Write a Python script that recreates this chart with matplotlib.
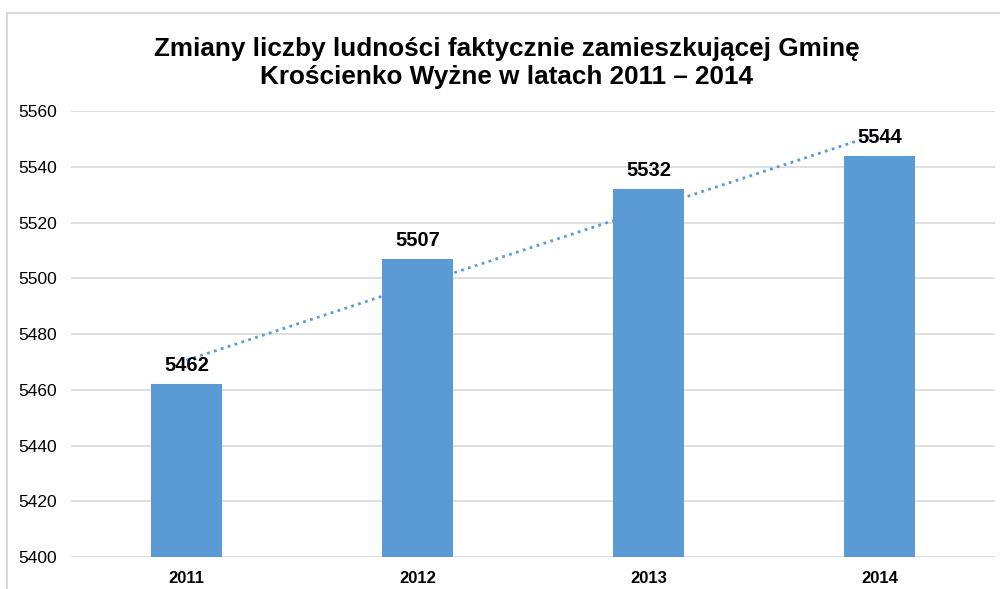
import matplotlib.pyplot as plt
import numpy as np
from matplotlib.patches import Rectangle

plt.rcParams['font.family'] = ['Liberation Sans', 'DejaVu Sans']

## dane
lata = ['2011', '2012', '2013', '2014']
ludnosc = [5462, 5507, 5532, 5544]
y_ticks = [5400, 5420, 5440, 5460, 5480, 5500, 5520, 5540, 5560]
tytul = 'Zmiany liczby ludności faktycznie zamieszkującej Gminę\nKrościenko Wyżne w latach 2011 – 2014'

kolor = '#5B9BD5'
szary = '#D9D9D9'

fig = plt.figure(figsize=(10, 5.89), dpi=100)
ax = fig.add_axes([0.071, 0.0543, 0.924, 0.7572])

# ramka wykresu
fig.patches.append(Rectangle((0.007, -0.05), 1.2, 1 - 0.022 + 0.05, transform=fig.transFigure,
                             fill=False, edgecolor=szary, linewidth=1.5))

x = np.arange(len(lata))
ax.bar(x, ludnosc, width=0.31, color=kolor, zorder=3)

# linia trendu (liniowa)
a, b = np.polyfit(x, ludnosc, 1)
ax.plot(x, a * x + b, linestyle=(0, (1, 1.6)), color=kolor, linewidth=2, zorder=4)

for xi, v in zip(x, ludnosc):
    ax.text(xi, v + 3.2, str(v), ha='center', va='bottom', fontsize=14.5, fontweight='bold', zorder=5)

ax.set_xlim(-0.5, len(lata) - 0.5)
ax.set_ylim(5400, 5560)
ax.set_yticks(y_ticks)
ax.set_yticklabels([str(t) for t in y_ticks], fontsize=12.5)
ax.set_xticks(x)
ax.set_xticklabels(lata, fontsize=12, fontweight='bold')
ax.tick_params(axis='both', length=0)
ax.tick_params(axis='y', pad=10)
ax.tick_params(axis='x', pad=10)
ax.grid(axis='y', color=szary, linewidth=1.2, zorder=0)
for s in ax.spines.values():
    s.set_visible(False)

fig.text(0.507, 0.893, tytul, ha='center', va='center', fontsize=18.8, fontweight='bold', linespacing=1.22)

plt.savefig('out.png', dpi=100)
